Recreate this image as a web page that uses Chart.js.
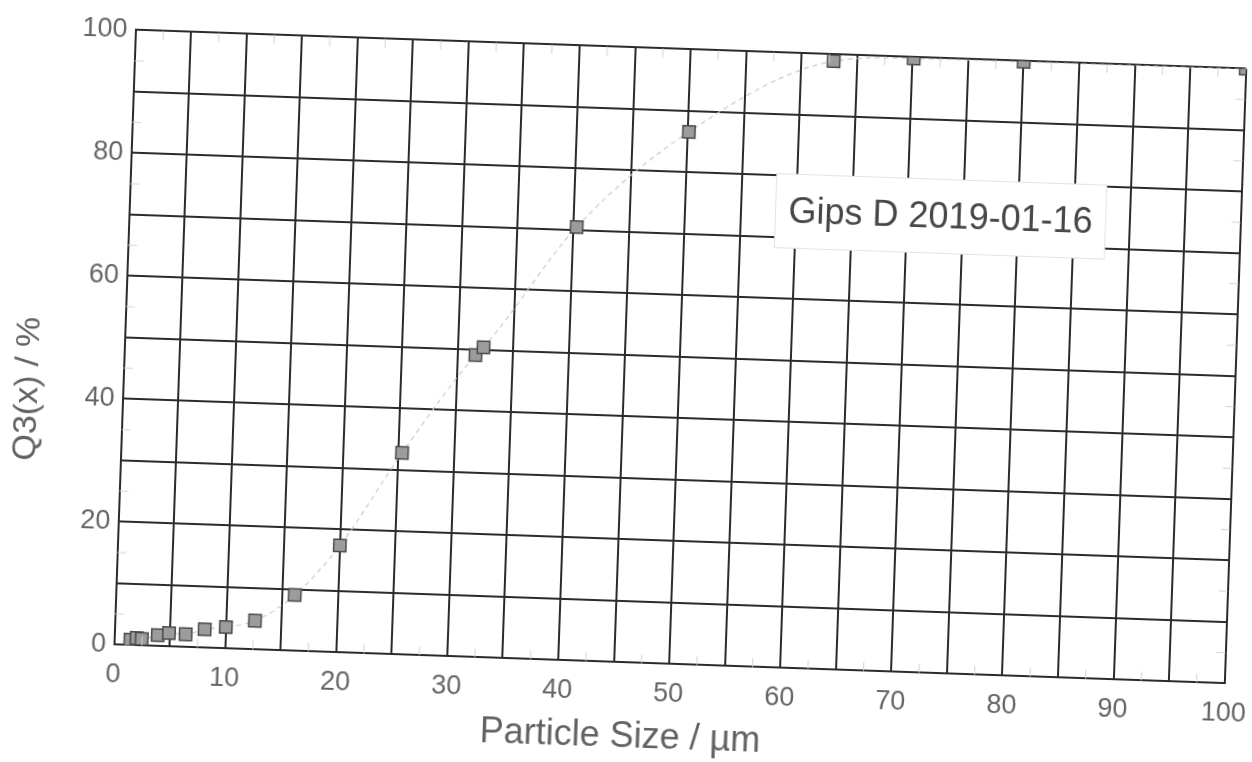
<!DOCTYPE html>
<html>
<head>
<meta charset="utf-8">
<title>Gips D 2019-01-16</title>
<script src="https://cdn.jsdelivr.net/npm/chart.js@4.4.1/dist/chart.umd.min.js"></script>
<style>
    html, body { margin: 0; padding: 0; background: #fff; overflow: hidden; width: 1252px; height: 762px; }
    /* the scan is a little skewed, so the whole sheet is turned by 2 degrees */
    #sheet { position: absolute; left: -34px; top: -39px; width: 1320px; height: 840px;
             transform: rotate(2deg); transform-origin: 50% 50%; }
</style>
</head>
<body>
<div id="sheet"><canvas id="q3Chart" width="1320" height="840"></canvas></div>
<script>
'use strict';

// particle size classes (µm) and cumulative Q3 values (%)
var sizes = [1.45, 2.0, 2.47, 3.9, 4.9, 6.4, 8.1, 10.0, 12.6, 16.1, 20.0, 25.3, 31.6, 32.3, 40.3, 50.1, 62.9, 70.1, 80.0, 100.0];
var q3 = [0.9, 1.2, 1.1, 1.8, 2.2, 2.1, 3.0, 3.5, 4.7, 9.1, 17.4, 32.8, 49.1, 50.4, 70.5, 86.6, 98.9, 99.8, 99.9, 100.0];

var xTicks = [0, 10, 20, 30, 40, 50, 60, 70, 80, 90, 100];
var yTicks = [0, 20, 40, 60, 80, 100];

var sampleLabel = 'Gips D 2019-01-16';
var xTitle = 'Particle Size / µm';
var yTitle = 'Q3(x) / %';

var FONT = '"Liberation Sans", Arial, sans-serif';

var points = sizes.map(function (s, i) {
    return { x: s, y: q3[i] };
});

// minor ticks, sample label and axis titles
var extras = {
    id: 'extras',
    afterDraw: function (chart) {
        var ctx = chart.ctx;
        var a = chart.chartArea;
        var xs = chart.scales.x;
        var ys = chart.scales.y;
        var v, p;

        ctx.save();
        ctx.strokeStyle = '#d2d2d2';
        ctx.lineWidth = 1;
        ctx.beginPath();
        for (v = 2.5; v < 100; v += 5) {
            p = xs.getPixelForValue(v);
            ctx.moveTo(p, a.bottom); ctx.lineTo(p, a.bottom - 9);
            ctx.moveTo(p, a.top); ctx.lineTo(p, a.top + 9);
        }
        for (v = 5; v < 100; v += 10) {
            p = ys.getPixelForValue(v);
            ctx.moveTo(a.left, p); ctx.lineTo(a.left + 9, p);
            ctx.moveTo(a.right, p); ctx.lineTo(a.right - 9, p);
        }
        ctx.stroke();

        // sample label box
        ctx.font = '36px ' + FONT;
        var w = ctx.measureText(sampleLabel).width + 26;
        var h = 74;
        var cx = xs.getPixelForValue(73);
        var cy = ys.getPixelForValue(74.3);
        ctx.fillStyle = '#fff';
        ctx.fillRect(cx - w / 2, cy - h / 2, w, h);
        ctx.strokeStyle = '#e2e2e2';
        ctx.strokeRect(cx - w / 2, cy - h / 2, w, h);
        ctx.fillStyle = '#474747';
        ctx.textAlign = 'center';
        ctx.textBaseline = 'middle';
        ctx.fillText(sampleLabel, cx, cy + 2);

        // axis titles
        ctx.fillStyle = '#626262';
        ctx.fillText(xTitle, a.left + (a.right - a.left) * 0.458, a.bottom + 75);
        ctx.font = '34px ' + FONT;
        ctx.translate(a.left - 95, a.top + (a.bottom - a.top) * 0.589);
        ctx.rotate(-Math.PI / 2);
        ctx.fillText(yTitle, 0, 0);
        ctx.restore();
    }
};

var q3Chart = new Chart(document.getElementById('q3Chart'), {
    type: 'scatter',
    data: {
        datasets: [{
            label: sampleLabel,
            data: points,
            showLine: true,
            cubicInterpolationMode: 'monotone',
            borderColor: '#cacaca',
            borderWidth: 1.2,
            borderDash: [5, 4],
            pointStyle: 'rect',
            pointRadius: 8.7,
            pointBackgroundColor: '#9c9c9c',
            pointBorderColor: '#4a4a4a',
            pointBorderWidth: 1.5
        }]
    },
    options: {
        responsive: false,
        devicePixelRatio: 1,
        animation: false,
        layout: { padding: { top: 86.4, right: 51.4, bottom: 0, left: 0 } },
        plugins: {
            legend: { display: false },
            tooltip: { enabled: false }
        },
        scales: {
            x: {
                type: 'linear',
                min: 0,
                max: 100,
                afterFit: function (scale) { scale.height = 138.6; },
                ticks: {
                    stepSize: 5,
                    padding: 14,
                    color: '#666',
                    font: { family: FONT, size: 27 },
                    callback: function (v) { return xTicks.indexOf(v) >= 0 ? String(v) : ''; }
                },
                grid: { color: '#2b2b2b', lineWidth: 2, drawTicks: false },
                border: { color: '#2b2b2b', width: 2 }
            },
            y: {
                min: 0,
                max: 100,
                afterFit: function (scale) { scale.width = 157.6; },
                ticks: {
                    stepSize: 10,
                    padding: 8,
                    color: '#666',
                    font: { family: FONT, size: 27 },
                    callback: function (v) { return yTicks.indexOf(v) >= 0 ? String(v) : ''; }
                },
                grid: { color: '#2b2b2b', lineWidth: 2, drawTicks: false },
                border: { color: '#2b2b2b', width: 2 }
            }
        }
    },
    plugins: [extras]
});
</script>
</body>
</html>
